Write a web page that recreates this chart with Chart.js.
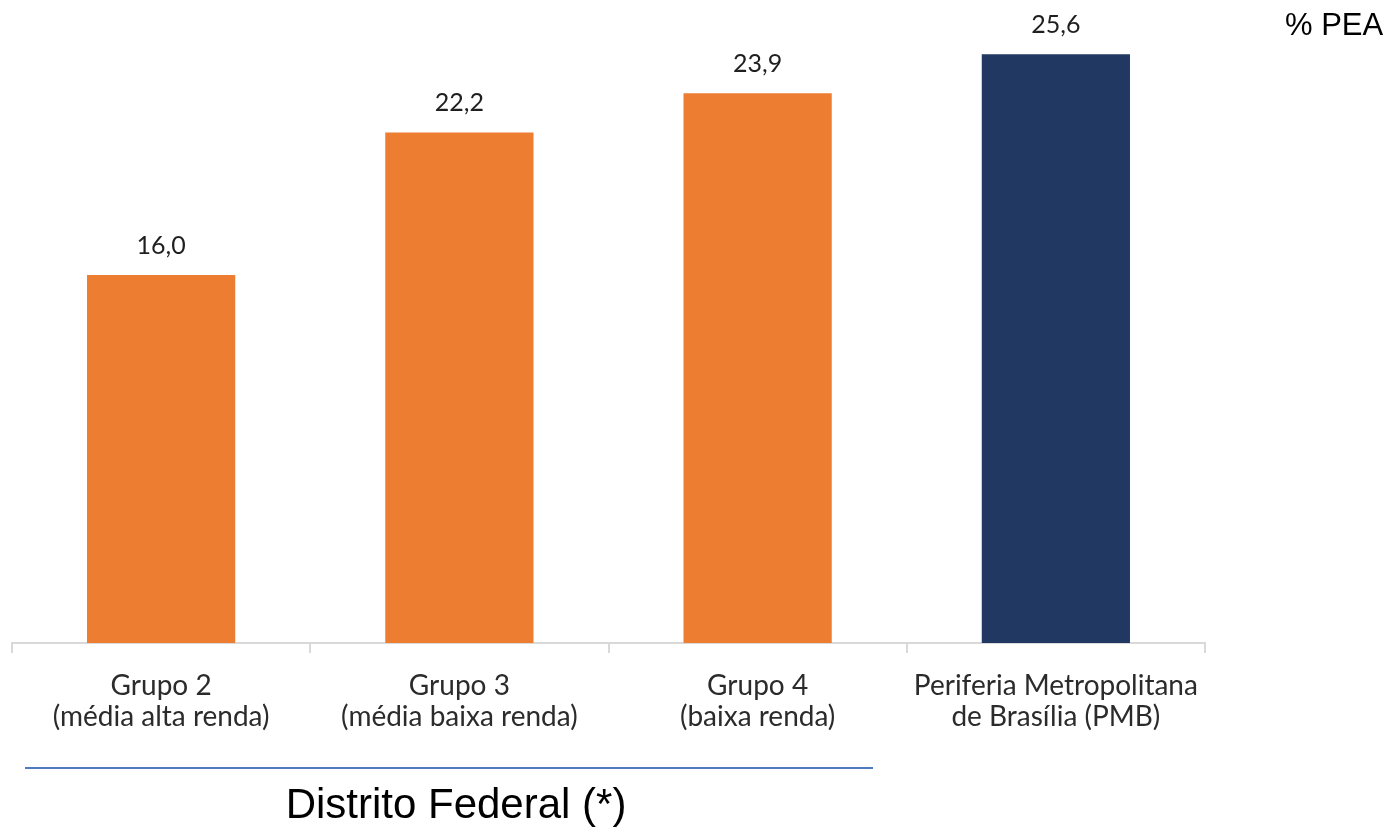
<!DOCTYPE html>
<html>
<head>
<meta charset="utf-8">
<script src="https://cdn.jsdelivr.net/npm/chart.js@4/dist/chart.umd.min.js"></script>
<style>
  body { margin: 0; background: #fff; }
  #wrap { position: relative; width: 1387px; height: 828px; overflow: hidden; }
  #unit { position: absolute; left: 1285px; top: 7px; font: 31px "Liberation Sans", Arial, sans-serif; color: #000; }
  #dfLine { position: absolute; left: 25px; top: 767px; width: 848px; height: 0; border-top: 2px solid #4f7bc0; }
  #dfLabel { position: absolute; left: 206px; width: 500px; top: 780px; text-align: center;
             font: 42px "Liberation Sans", Arial, sans-serif; color: #000; }
</style>
</head>
<body>
<div id="wrap">
  <canvas id="chart" width="1387" height="828"></canvas>
  <div id="unit">% PEA</div>
  <div id="dfLine"></div>
  <div id="dfLabel">Distrito Federal (*)</div>
</div>
<script>
let categories = [
    ["Grupo 2", "(média alta renda)"],
    ["Grupo 3", "(média baixa renda)"],
    ["Grupo 4", "(baixa renda)"],
    ["Periferia Metropolitana", "de Brasília (PMB)"]
];
let values = [16.0, 22.2, 23.9, 25.6];
let barColors = ["#ed7d31", "#ed7d31", "#ed7d31", "#213862"];

let valueLabels = {
    id: "valueLabels",
    afterDatasetsDraw(chart) {
        let ctx = chart.ctx;
        let meta = chart.getDatasetMeta(0);
        ctx.save();
        ctx.font = "25px Lato, sans-serif";
        ctx.fillStyle = "#1f1f1f";
        ctx.textAlign = "center";
        ctx.textBaseline = "middle";
        meta.data.forEach((bar, i) => {
            ctx.fillText(values[i].toFixed(1).replace(".", ","), bar.x, bar.y - 29);
        });
        ctx.restore();
    }
};

let chart = new Chart(document.getElementById("chart"), {
    type: "bar",
    data: {
        labels: categories,
        datasets: [{
            data: values,
            backgroundColor: barColors,
            categoryPercentage: 1,
            barPercentage: 0.497
        }]
    },
    options: {
        responsive: false,
        animation: false,
        layout: { padding: { left: 12, right: 182, top: 22, bottom: 0 } },
        plugins: { legend: { display: false }, tooltip: { enabled: false } },
        scales: {
            x: {
                grid: { drawOnChartArea: false, drawTicks: true, tickLength: 10, color: "#d9d9d9", lineWidth: 2 },
                border: { color: "#d9d9d9", width: 2 },
                ticks: {
                    color: "#2b2b2b",
                    font: { family: "Lato, sans-serif", size: 28, lineHeight: 1.12 },
                    padding: 17,
                    maxRotation: 0,
                    autoSkip: false
                },
                afterFit(scale) { scale.height = 185; }
            },
            y: { display: false, min: 0, max: 27 }
        }
    },
    plugins: [valueLabels]
});
</script>
</body>
</html>
